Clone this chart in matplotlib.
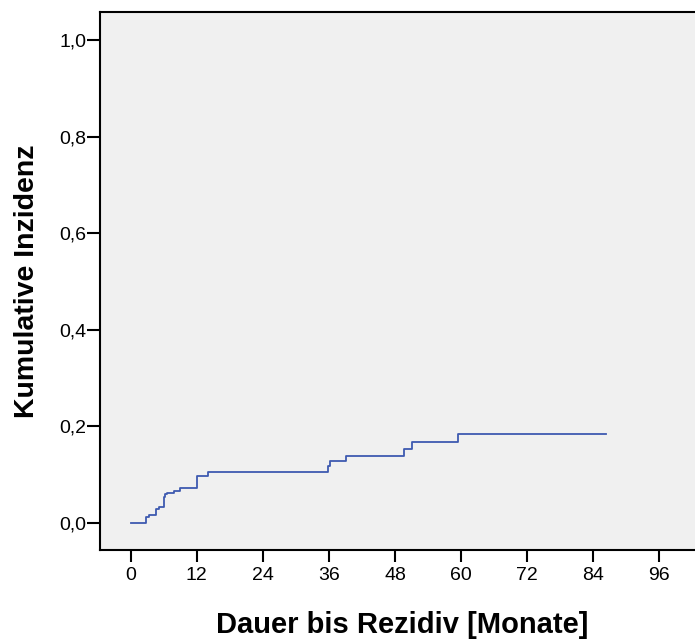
import matplotlib.pyplot as plt
import numpy as np

plt.rcParams['font.family'] = ['Liberation Sans', 'DejaVu Sans']

# Zeitpunkte der Stufen (Monate) und kumulative Inzidenz nach jeder Stufe
months = [0.0, 2.8, 3.3, 4.5, 5.2, 6.0, 6.1, 6.3, 6.6, 7.8, 9.0, 12.0, 12.05, 12.1,
          14.1, 35.9, 36.1, 39.1, 49.6, 51.0, 59.4, 86.3]
incidence = [0.0, 0.012, 0.016, 0.028, 0.033, 0.044, 0.054, 0.059, 0.061, 0.067,
             0.072, 0.083, 0.091, 0.098, 0.106, 0.117, 0.128, 0.139, 0.154, 0.168,
             0.185, 0.185]

x_ticks = [0, 12, 24, 36, 48, 60, 72, 84, 96]
y_ticks = [0.0, 0.2, 0.4, 0.6, 0.8, 1.0]
y_ticklabels = ['0,0', '0,2', '0,4', '0,6', '0,8', '1,0']

fig = plt.figure(figsize=(6.95, 6.4), dpi=100)
ax_w = 595
ax_h = 538
ax = fig.add_axes([100 / 695, 1 - 550 / 640, ax_w / 695, ax_h / 640])
ax.set_facecolor('#f0f0f0')

ax.step(months, incidence, where='post', color='#3e5ab0', linewidth=1.3)

ax.set_xlim(-5.6, 102.5)
ax.set_ylim(-0.056, 1.058)
ax.set_xticks(x_ticks)
ax.set_yticks(y_ticks)
ax.set_yticklabels(y_ticklabels)
ax.tick_params(direction='out', width=1.5, labelsize=14, colors='black')
ax.tick_params(axis='x', length=8.6, pad=4)
ax.tick_params(axis='y', length=9.4, pad=0.5)
for side in ['left', 'bottom', 'top']:
    ax.spines[side].set_linewidth(1.5)
ax.spines['right'].set_visible(False)

ax.set_xlabel('Dauer bis Rezidiv [Monate]', fontsize=21, fontweight='bold')
ax.set_ylabel('Kumulative Inzidenz', fontsize=20.5, fontweight='bold')
ax.xaxis.set_label_coords((402 - 100) / ax_w, -(611 - 550) / ax_h)
ax.yaxis.set_label_coords(-(100 - 40) / ax_w, (550 - 281) / ax_h)

fig.savefig('out.png', dpi=100)
